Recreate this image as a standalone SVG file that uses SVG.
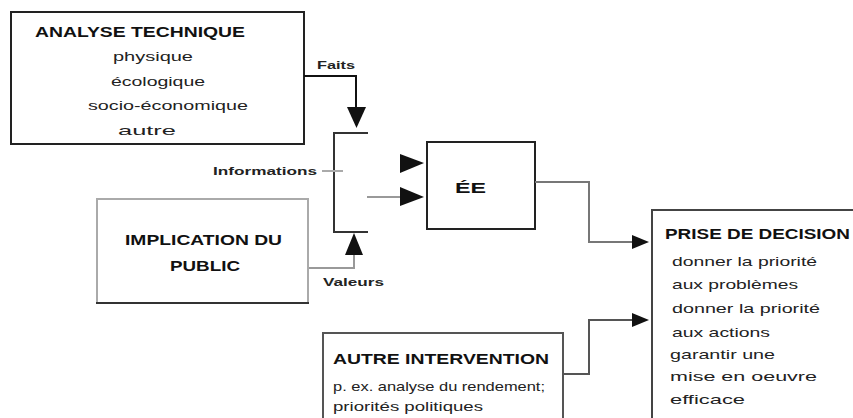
<svg xmlns="http://www.w3.org/2000/svg" width="853" height="418" viewBox="0 0 853 418">
<defs>
<style>
.box{fill:#fff;stroke-width:2}
.t{font-family:"Liberation Sans",Arial,sans-serif;font-weight:bold;font-size:15px;fill:#111}
.b{font-family:"Liberation Sans",Arial,sans-serif;font-size:13px;fill:#222}
.l{font-family:"Liberation Sans",Arial,sans-serif;font-weight:bold;font-size:11px;fill:#222}
.c{fill:none;stroke-width:2}
.ah{fill:#111}
</style>
</defs>
<rect width="853" height="418" fill="#fff"/>
<g id="analyse">
<rect class="box" x="11" y="12" width="293" height="132" stroke="#222"/>
<text class="t" x="35" y="37" textLength="210" lengthAdjust="spacingAndGlyphs">ANALYSE TECHNIQUE</text>
<text class="b" x="113" y="61" textLength="80" lengthAdjust="spacingAndGlyphs">physique</text>
<text class="b" x="111" y="86" textLength="94" lengthAdjust="spacingAndGlyphs">écologique</text>
<text class="b" x="88" y="110" textLength="160" lengthAdjust="spacingAndGlyphs">socio-économique</text>
<text class="b" x="118" y="135" textLength="58" lengthAdjust="spacingAndGlyphs">autre</text>
</g>
<g id="implication">
<rect class="box" x="97" y="199" width="211" height="104" stroke="#aaa"/>
<line x1="96" y1="303" x2="309" y2="303" stroke="#333" stroke-width="2"/>
<text class="t" x="125" y="245" textLength="157" lengthAdjust="spacingAndGlyphs">IMPLICATION DU</text>
<text class="t" x="170" y="271" textLength="70" lengthAdjust="spacingAndGlyphs">PUBLIC</text>
</g>
<g id="ee">
<rect class="box" x="427" y="142" width="108" height="87" stroke="#222"/>
<text class="t" x="455" y="193" textLength="31" lengthAdjust="spacingAndGlyphs">ÉE</text>
</g>
<g id="decision">
<rect class="box" x="652" y="210" width="215" height="220" stroke="#444"/>
<text class="t" x="665" y="239" textLength="185" lengthAdjust="spacingAndGlyphs">PRISE DE DECISION</text>
<text class="b" x="672" y="266" textLength="145" lengthAdjust="spacingAndGlyphs">donner la priorité</text>
<text class="b" x="672" y="289" textLength="126" lengthAdjust="spacingAndGlyphs">aux problèmes</text>
<text class="b" x="672" y="313" textLength="148" lengthAdjust="spacingAndGlyphs">donner la priorité</text>
<text class="b" x="672" y="337" textLength="98" lengthAdjust="spacingAndGlyphs">aux actions</text>
<text class="b" x="670" y="359" textLength="105" lengthAdjust="spacingAndGlyphs">garantir une</text>
<text class="b" x="670" y="381" textLength="147" lengthAdjust="spacingAndGlyphs">mise en oeuvre</text>
<text class="b" x="670" y="404" textLength="75" lengthAdjust="spacingAndGlyphs">efficace</text>
</g>
<g id="autre">
<rect class="box" x="323" y="333" width="240" height="100" stroke="#555"/>
<text class="t" x="333" y="364" textLength="216" lengthAdjust="spacingAndGlyphs">AUTRE INTERVENTION</text>
<text class="b" x="333" y="391" textLength="212" lengthAdjust="spacingAndGlyphs">p. ex. analyse du rendement;</text>
<text class="b" x="333" y="411" textLength="150" lengthAdjust="spacingAndGlyphs">priorités politiques</text>
</g>
<g id="connectors">
<polyline class="c" points="304,76 356,76 356,108" stroke="#111"/>
<polygon class="ah" points="347,107 366,107 356.5,128"/>
<text class="l" x="317" y="69" textLength="38" lengthAdjust="spacingAndGlyphs">Faits</text>
<polyline class="c" points="368,133 334,133 334,232 368,232" stroke="#333"/>
<line x1="322" y1="171" x2="343" y2="171" stroke="#aaa" stroke-width="2"/>
<text class="l" x="213" y="175" textLength="104" lengthAdjust="spacingAndGlyphs">Informations</text>
<polyline class="c" points="309,268 354,268 354,254" stroke="#999"/>
<polygon class="ah" points="345,255 363,255 354,233"/>
<text class="l" x="323" y="286" textLength="61" lengthAdjust="spacingAndGlyphs">Valeurs</text>
<polygon class="ah" points="400,154 400,173 424,163"/>
<line x1="367" y1="197" x2="402" y2="197" stroke="#999" stroke-width="2"/>
<polygon class="ah" points="400,187 400,206 424,197"/>
<polyline class="c" points="535,182 589,182 589,242 634,242" stroke="#777"/>
<polygon class="ah" points="632,235 632,249 649,242"/>
<polyline class="c" points="563,374 589,374 589,320 634,320" stroke="#555"/>
<polygon class="ah" points="632,313 632,327 649,320"/>
</g>
</svg>
